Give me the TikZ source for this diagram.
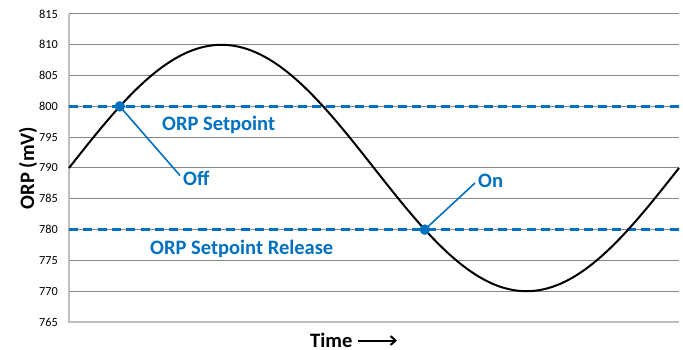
\documentclass[tikz,border=0pt]{standalone}
\usepackage{fontspec}
\setmainfont{Carlito}
\usetikzlibrary{arrows.meta}
\definecolor{orpblue}{RGB}{0,112,192}
\definecolor{gridgray}{RGB}{134,134,134}
\definecolor{axisgray}{RGB}{190,190,190}
\tikzset{
  grid line/.style={draw=gridgray, line width=1pt},
  axis line/.style={draw=axisgray, line width=1.2pt},
  set line/.style={draw=orpblue, line width=2.6pt, dash pattern=on 9pt off 5.3pt},
  tick lbl/.style={anchor=east, font=\fontsize{12.3}{13}\selectfont, inner sep=0pt},
  blue lbl/.style={text=orpblue, font=\fontsize{20.5}{22}\selectfont\bfseries, inner sep=0pt},
  title lbl/.style={font=\fontsize{20.5}{22}\selectfont\bfseries, inner sep=0pt},
  dotnode/.style={circle, fill=orpblue, minimum size=10.5pt, inner sep=0pt},
  leader/.style={draw=orpblue, line width=1.6pt},
}
\begin{document}
\begin{tikzpicture}[x=1pt,y=-1pt]
\useasboundingbox (0,0) rectangle (683,350);
% gridlines
\foreach \v in {770,775,...,815} {
  \draw[grid line] (69,{322-(\v-765)*6.16}) -- (679,{322-(\v-765)*6.16});
}
\foreach \v in {765,770,...,815} {
  \node[tick lbl] at (58,{322-(\v-765)*6.16}) {\v};
}
\draw[axis line] (69,14) -- (69,322) -- (679,322);
% setpoint lines
\draw[set line] (69,106.4) -- (679,106.4);
\draw[set line] (69,229.6) -- (679,229.6);
% sine
\draw[line width=2pt, black] plot[domain=0:360, samples=120, smooth] ({69+1.694444*\x},{168-123.2*sin(\x)});
% points
\node[dotnode] (off) at (119.8,106.4) {};
\node[dotnode] (on) at (424.8,229.6) {};
\node[blue lbl, anchor=west] (offlbl) at (183,178.5) {Off};
\node[blue lbl, anchor=west] (onlbl) at (478,181) {On};
\draw[leader] (off.center) -- ([xshift=-3pt,yshift=3pt]offlbl.west);
\draw[leader] (on.center) -- ([xshift=-3pt,yshift=-2pt]onlbl.west);
\node[blue lbl, anchor=west] (sp) at (162,125) {ORP Setpoint};
\node[blue lbl, anchor=west] (spr) at (150,249) {ORP Setpoint Release};
% axis titles
\node[title lbl, rotate=90] (ylab) at (28,168) {ORP (mV)};
\node[title lbl, anchor=west] (time) at (310,340) {Time};
\coordinate (arrowend) at (397,340.5);
\draw[line width=2pt, -{Straight Barb[length=5pt,width=9pt]}] ([xshift=5pt,yshift=-0.5pt]time.east) -- (arrowend);
\end{tikzpicture}
\end{document}
